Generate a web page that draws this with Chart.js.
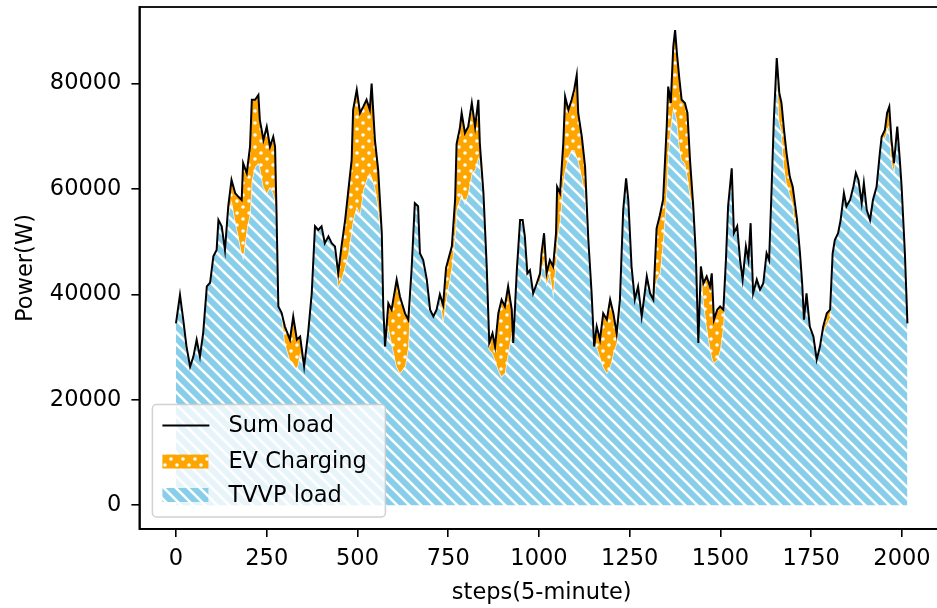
<!DOCTYPE html>
<html><head><meta charset="utf-8">
<script src="https://cdn.jsdelivr.net/npm/chart.js@4.4.1/dist/chart.umd.min.js"></script>
<style>html,body{margin:0;padding:0;overflow:hidden;background:#fff}#wrap{width:950px;height:608px}</style>
</head><body><div id="wrap"><canvas id="c" width="950" height="608"></canvas></div>
<script>
const steps = [0,11,20,29,39,48,57,66,75,85,94,103,112,117,126,135,144,153,163,172,181,185,195,204,209,218,227,231,241,250,259,268,273,277,282,291,300,314,323,333,342,353,364,374,383,392,401,410,420,429,438,447,456,466,475,484,488,498,507,516,525,534,539,548,557,567,571,576,585,594,608,617,631,640,649,658,667,672,681,691,700,709,718,727,736,744,760,769,773,782,787,796,805,815,824,833,837,847,856,863,872,879,888,897,906,915,925,929,939,948,955,961,968,975,984,994,1003,1007,1014,1021,1030,1039,1047,1050,1058,1067,1072,1081,1090,1097,1104,1108,1118,1127,1136,1145,1152,1159,1168,1177,1187,1196,1205,1214,1223,1232,1240,1246,1255,1264,1273,1283,1289,1297,1306,1315,1324,1333,1342,1352,1356,1363,1370,1375,1380,1387,1393,1402,1409,1416,1425,1432,1439,1446,1453,1462,1471,1476,1482,1491,1499,1508,1515,1521,1531,1537,1546,1554,1561,1570,1577,1583,1590,1600,1609,1618,1627,1634,1641,1647,1655,1662,1668,1675,1682,1691,1699,1705,1711,1719,1725,1730,1737,1746,1756,1765,1774,1783,1793,1802,1809,1815,1824,1831,1840,1847,1857,1866,1873,1880,1889,1895,1903,1912,1920,1930,1939,1944,1953,1959,1965,1971,1978,1987,1994,1999,2008,2015];
const sumLoad = [34500,39900,35200,30100,26300,28200,31400,28200,32700,41500,42200,47200,48400,54100,52900,48400,56700,61700,59200,58500,57900,64900,63000,68000,76900,76900,77800,73100,69300,71800,68000,69900,68000,55400,37700,36500,33900,31400,35800,31400,32000,26300,32600,40200,52900,52200,52900,49700,51000,49700,49100,44000,49100,54100,59800,65500,75000,78800,74400,75600,76900,75000,80000,69300,63600,51600,37700,30100,38300,37100,42800,39600,36400,35200,44600,57300,56700,47800,46500,42800,37100,35800,37100,40000,38000,45000,49100,58000,68500,71500,74400,70600,71800,76300,71800,76900,68700,59200,45300,30800,32600,30100,36400,39000,37700,41500,37100,30800,44600,54100,54100,51000,44000,44600,40200,42100,44000,47800,51600,44000,46500,45300,51600,60400,59200,68700,77500,75000,76900,78800,81600,74400,69900,64200,50300,40200,30100,33900,31400,36400,35200,39000,36400,32600,39000,56000,62000,57900,45300,39000,41500,35800,39000,43400,40200,39000,52500,55000,58000,72000,79400,76300,87000,90100,85700,80700,76900,76300,74400,65500,56700,47800,30800,45300,42100,43400,41500,44000,35200,37100,37700,37100,46500,56700,63900,51600,52900,46500,42800,49100,46500,53500,40200,42800,40900,42100,47800,46500,60400,73100,84800,78200,76300,71200,66800,62300,60400,57300,54100,47800,42100,35200,40200,33900,32000,27600,30100,33900,36400,37100,47800,50300,51600,54100,59200,56700,57900,60400,63000,61700,57300,61100,56000,54100,57900,60400,66800,69900,71200,74400,75600,69300,64900,71800,65500,60400,47800,34500];
const evCharging = [0,0,600,600,0,0,0,0,0,0,0,0,0,0,0,0,1500,3800,5100,7500,10000,17900,10800,12600,15200,12700,12900,8900,8900,12600,7600,10700,10100,1300,0,0,3100,3800,8800,5700,3000,0,0,0,0,0,0,0,0,0,0,2500,6300,8800,12000,13300,20900,22100,19000,15800,15200,12000,17700,8900,6900,1500,0,0,4400,6300,16500,14500,10100,5100,1500,0,0,0,0,0,0,0,0,0,3000,6000,3800,6400,12500,13600,15200,13300,12600,13300,8200,10800,3200,1000,0,1300,3700,2500,10700,14600,12600,12600,4400,0,0,0,0,0,0,0,0,0,1500,3000,5000,2000,2500,5100,5100,10100,5100,7000,13900,8900,9500,11400,15500,8900,7600,5000,1500,0,0,3800,3200,10100,10100,12700,7500,1800,2000,0,0,0,0,0,0,0,0,0,0,0,9700,11000,8000,11600,12600,4300,11400,15700,12600,12700,11400,11400,12100,6300,1500,0,0,0,3100,9500,11400,15800,8200,9500,8200,3200,0,0,0,0,0,0,0,0,0,0,0,0,0,0,0,0,0,0,2000,5400,5100,7000,5700,3200,3100,3700,1000,0,0,0,0,0,0,0,0,1000,2000,1500,0,0,0,0,0,0,0,0,0,0,0,0,0,0,0,0,0,0,1500,3000,3500,4000,1500,0,0,0,0,0,0];
const xTicks = [0,250,500,750,1000,1250,1500,1750,2000];
const yTicks = [0,20000,40000,60000,80000];
const seriesNames = ['Sum load','EV Charging','TVVP load'];
const axisTitles = ['steps(5-minute)','Power(W)'];

const tvvpLoad = sumLoad.map((v,i)=>v-evCharging[i]);
const FONT = {family:'"DejaVu Sans"', size:22.5};

function stripePattern(){
  const c=document.createElement('canvas'); c.width=c.height=12;
  const g=c.getContext('2d'); g.fillStyle='#87CEEB'; g.fillRect(0,0,12,12);
  g.strokeStyle='#ffffff'; g.lineWidth=2.6; g.beginPath();
  g.moveTo(-2,-2); g.lineTo(14,14); g.moveTo(-2,10); g.lineTo(2,14); g.moveTo(10,-2); g.lineTo(14,2); g.stroke();
  return g.createPattern(c,'repeat');
}
function dotPattern(){
  const c=document.createElement('canvas'); c.width=c.height=12;
  const g=c.getContext('2d'); g.fillStyle='#FFA500'; g.fillRect(0,0,12,12);
  g.fillStyle='#ffffff';
  [[3,3],[9,9]].forEach(p=>{g.beginPath(); g.arc(p[0],p[1],1.8,0,Math.PI*2); g.fill();});
  return g.createPattern(c,'repeat');
}
const stripes = stripePattern(), dots = dotPattern();

const frame = {id:'frame', afterDraw(chart){
  const g=chart.ctx, a=chart.chartArea;
  g.save(); g.strokeStyle='#000'; g.lineWidth=1.8;
  g.strokeRect(a.left,a.top,a.right-a.left,a.bottom-a.top);
  const bx=a.left+13, bw=233, bh=112.5, by=a.bottom-12-bh;
  g.beginPath(); if(g.roundRect) g.roundRect(bx,by,bw,bh,4); else g.rect(bx,by,bw,bh);
  g.fillStyle='rgba(255,255,255,0.8)'; g.fill();
  g.strokeStyle='rgba(204,204,204,0.9)'; g.lineWidth=1.5; g.stroke();
  const rows=[by+21, by+57, by+90.5];
  g.strokeStyle='#000'; g.lineWidth=1.8; g.beginPath(); g.moveTo(bx+10,rows[0]); g.lineTo(bx+57,rows[0]); g.stroke();
  g.fillStyle=dots; g.fillRect(bx+10,rows[1]-7,46,14);
  g.fillStyle=stripes; g.fillRect(bx+10,rows[2]-7,46,14);
  g.fillStyle='#000'; g.font='22.5px "DejaVu Sans"'; g.textBaseline='middle'; g.textAlign='left';
  seriesNames.forEach((n,i)=>g.fillText(n,bx+76,rows[i]+1));
  g.restore();
}};

const pts = arr => steps.map((s,i)=>({x:s,y:arr[i]}));
new Chart(document.getElementById('c'),{
  type:'line',
  data:{datasets:[
    {label:seriesNames[0], data:pts(sumLoad), borderColor:'#000', borderWidth:2, pointRadius:0, fill:false, tension:0},
    {label:seriesNames[1], data:pts(sumLoad), borderColor:'rgba(0,0,0,0)', borderWidth:1, backgroundColor:dots, pointRadius:0, fill:'+1', tension:0},
    {label:seriesNames[2], data:pts(tvvpLoad), borderColor:'rgba(255,255,255,0.8)', borderWidth:1.5, backgroundColor:stripes, pointRadius:0, fill:'origin', tension:0}
  ]},
  options:{
    animation:false, responsive:false, devicePixelRatio:1,
    layout:{padding:{top:7,right:6,left:0,bottom:0}},
    plugins:{legend:{display:false}, tooltip:{enabled:false}},
    scales:{
      x:{type:'linear', min:-100.75, max:2115.75,
        afterBuildTicks:s=>{s.ticks=xTicks.map(v=>({value:v}));},
        afterFit:s=>{s.height=79; s.paddingLeft=0; s.paddingRight=0;},
        ticks:{font:FONT, color:'#000', padding:9, maxRotation:0, autoSkip:false, callback:v=>String(v)},
        grid:{drawOnChartArea:false, drawTicks:true, tickLength:8, color:'#000', lineWidth:1.6},
        border:{display:true, color:'#000', width:1.8},
        title:{display:true, text:axisTitles[0], font:FONT, color:'#000', padding:{top:0,bottom:1.5}}},
      y:{type:'linear', min:-4500, max:94500,
        afterBuildTicks:s=>{s.ticks=yTicks.map(v=>({value:v}));},
        afterFit:s=>{s.width=139.4; s.paddingTop=0; s.paddingBottom=0;},
        ticks:{font:FONT, color:'#000', padding:10, autoSkip:false, callback:v=>String(v)},
        grid:{drawOnChartArea:false, drawTicks:true, tickLength:8, color:'#000', lineWidth:1.6},
        border:{display:true, color:'#000', width:1.8},
        title:{display:true, text:axisTitles[1], font:FONT, color:'#000', padding:{top:12.5,bottom:0}}}
    }
  },
  plugins:[frame]
});
</script></body></html>
